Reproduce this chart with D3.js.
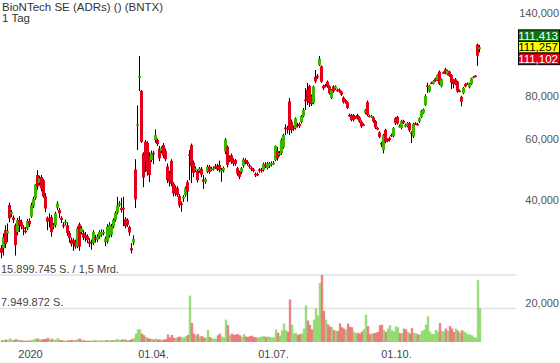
<!DOCTYPE html>
<html>
<head>
<meta charset="utf-8">
<script src="https://cdn.jsdelivr.net/npm/d3@7"></script>
<style>
  body { margin: 0; background: #fff; }
  svg { display: block; font-family: "Liberation Sans", Arial, sans-serif; }
</style>
</head>
<body>
<div id="chart"></div>
<script>
// BNTX daily candles (USD)
var opens = [
  28.9, 28.9, 32.6, 31.9, 38.6, 36.3, 35.5, 33.7, 32.2, 34.9,
  34.4, 33.2, 32.5, 33.0, 34.7, 35.7, 38.3, 40.4, 47.2, 44.8,
  46.6, 45.6, 40.9, 35.4, 35.4, 35.6, 33.4, 33.7, 37.9, 37.3,
  35.4, 33.8, 34.2, 33.7, 32.0, 30.6, 30.5, 30.2, 29.2, 33.9,
  32.2, 32.0, 31.5, 31.3, 30.2, 30.1, 29.9, 31.0, 30.5, 31.2,
  31.6, 31.9, 30.1, 30.2, 31.4, 31.6, 33.4, 34.9, 36.7, 38.7,
  37.8, 37.9, 35.1, 34.9, 33.3, 28.9, 30.0, 49.0, 65.7, 90.7,
  83.0, 54.6, 59.0, 58.5, 53.7, 52.2, 54.8, 59.7, 59.7, 56.4,
  55.4, 57.7, 55.6, 50.0, 47.7, 51.9, 44.5, 43.4, 43.2, 41.0,
  39.0, 40.3, 41.3, 45.0, 54.2, 57.7, 51.3, 49.0, 48.5, 48.5,
  49.2, 45.8, 45.1, 48.3, 50.0, 49.0, 49.2, 50.1, 50.3, 50.5,
  48.6, 48.7, 55.2, 57.1, 53.2, 53.9, 52.2, 52.2, 49.4, 48.2,
  48.1, 50.2, 52.2, 51.6, 50.4, 49.6, 49.0, 47.6, 47.5, 49.0,
  49.0, 48.8, 50.8, 49.5, 50.1, 50.5, 50.9, 52.2, 55.5, 54.0,
  54.6, 56.8, 64.9, 64.7, 77.4, 67.5, 64.9, 64.6, 66.1, 66.5,
  67.3, 70.1, 78.3, 83.5, 85.8, 80.2, 76.5, 91.2, 91.9, 98.7,
  97.9, 85.8, 86.3, 88.3, 85.6, 79.2, 85.6, 84.3, 83.7, 83.8,
  82.6, 79.4, 78.1, 76.9, 70.7, 70.6, 70.6, 69.6, 70.6, 69.5,
  67.5, 66.3, 71.6, 77.0, 70.3, 69.8, 69.5, 67.8, 64.7, 62.8,
  58.5, 55.8, 63.9, 59.8, 60.5, 61.8, 61.3, 69.1, 69.7, 65.4,
  64.7, 67.9, 65.5, 65.5, 66.9, 62.8, 61.1, 66.8, 66.5, 67.6,
  69.6, 71.6, 75.5, 86.0, 82.8, 87.7, 87.2, 90.2, 89.3, 94.5,
  85.6, 94.0, 96.0, 92.7, 94.5, 92.3, 89.3, 89.7, 88.3, 83.2,
  79.8, 81.8, 86.9, 87.3, 85.0, 86.9, 90.9, 91.9, 113.3, 109.8
];
var highs = [
  29.5, 31.9, 33.7, 34.1, 39.2, 37.3, 36.0, 34.1, 35.4, 35.8,
  35.0, 33.7, 33.3, 35.2, 35.3, 39.2, 40.8, 44.5, 48.8, 47.0,
  47.2, 46.0, 41.8, 35.7, 36.5, 36.1, 34.2, 36.9, 39.6, 37.8,
  35.8, 34.4, 35.0, 34.4, 32.4, 31.0, 30.9, 30.6, 33.4, 34.3,
  33.5, 32.6, 32.2, 31.7, 30.9, 30.6, 32.6, 31.6, 31.7, 32.6,
  32.8, 32.7, 31.2, 33.9, 34.4, 34.0, 35.3, 37.0, 40.8, 39.6,
  40.5, 40.8, 35.6, 35.3, 33.6, 29.9, 31.5, 52.5, 75.3, 104.9,
  83.5, 55.0, 59.7, 59.2, 55.0, 55.6, 55.5, 64.1, 60.3, 57.4,
  57.2, 58.5, 56.4, 51.0, 48.5, 52.5, 45.0, 44.0, 43.8, 41.5,
  39.5, 41.2, 43.7, 45.6, 55.8, 58.3, 52.0, 50.0, 49.0, 49.8,
  49.8, 47.2, 46.4, 50.5, 50.5, 49.9, 50.0, 50.8, 50.9, 52.0,
  49.5, 50.0, 60.5, 57.6, 53.8, 54.5, 52.8, 52.6, 49.9, 48.6,
  49.8, 53.0, 52.8, 52.1, 50.9, 50.0, 49.5, 48.0, 48.0, 49.4,
  49.5, 51.3, 51.4, 51.6, 51.5, 51.7, 51.8, 57.6, 57.0, 55.4,
  60.3, 62.3, 66.3, 65.6, 79.1, 68.5, 65.8, 69.5, 67.0, 67.2,
  70.6, 74.0, 84.6, 87.6, 86.5, 81.0, 86.0, 95.5, 93.0, 104.9,
  98.5, 86.5, 87.0, 89.0, 86.2, 84.0, 86.2, 86.1, 84.3, 84.4,
  83.1, 80.0, 78.6, 77.4, 71.3, 71.1, 71.1, 70.1, 71.2, 70.0,
  68.0, 66.8, 73.5, 77.8, 70.8, 70.7, 70.0, 68.3, 65.2, 63.3,
  59.0, 62.2, 64.4, 60.3, 61.0, 62.3, 65.1, 69.6, 70.2, 66.3,
  68.4, 68.4, 66.6, 67.4, 67.4, 63.3, 67.0, 67.3, 67.0, 69.5,
  73.1, 73.8, 81.2, 87.7, 86.3, 88.3, 89.2, 90.7, 92.8, 95.2,
  90.2, 94.6, 97.0, 95.7, 95.0, 92.8, 89.8, 90.5, 88.8, 83.8,
  80.3, 85.2, 87.4, 87.9, 87.7, 90.7, 91.8, 92.3, 114.0, 113.0
];
var lows = [
  27.0, 27.5, 28.9, 30.1, 34.4, 35.6, 34.2, 27.5, 31.5, 32.2,
  32.8, 31.5, 31.9, 32.6, 33.3, 35.4, 37.8, 40.0, 42.7, 44.0,
  42.3, 40.5, 36.8, 32.6, 33.2, 31.2, 32.8, 33.2, 37.3, 35.4,
  34.2, 33.0, 33.7, 31.4, 30.0, 29.2, 28.4, 28.8, 28.9, 28.4,
  31.7, 30.5, 30.2, 29.9, 29.1, 28.6, 29.5, 30.0, 30.1, 30.8,
  31.2, 31.5, 29.3, 29.8, 31.0, 31.1, 33.0, 34.5, 36.3, 38.2,
  36.7, 33.5, 33.0, 33.3, 31.4, 27.9, 29.5, 37.8, 55.8, 82.9,
  58.5, 43.5, 48.2, 47.0, 45.0, 51.5, 50.8, 58.6, 57.4, 51.8,
  54.6, 52.9, 51.8, 44.7, 43.7, 43.8, 40.9, 41.0, 40.8, 37.9,
  36.9, 39.4, 40.8, 39.5, 45.6, 44.7, 46.6, 48.2, 44.9, 47.9,
  46.5, 43.0, 44.5, 47.8, 47.6, 48.5, 48.6, 49.2, 48.5, 48.1,
  45.1, 48.0, 54.3, 49.7, 51.5, 50.9, 50.2, 50.2, 47.0, 45.9,
  47.5, 49.6, 50.8, 50.3, 49.3, 48.4, 48.0, 46.6, 46.8, 48.0,
  47.9, 48.3, 49.5, 49.0, 49.5, 50.0, 50.5, 51.8, 52.0, 53.5,
  54.0, 56.3, 61.7, 62.3, 61.7, 62.5, 63.5, 64.0, 65.0, 64.7,
  66.7, 69.5, 73.0, 75.5, 74.5, 75.0, 75.8, 87.5, 90.0, 98.0,
  87.6, 83.5, 85.0, 84.8, 81.0, 78.6, 82.0, 83.6, 82.6, 82.0,
  80.3, 76.3, 76.2, 73.5, 69.8, 67.7, 67.6, 68.8, 68.5, 67.0,
  64.8, 65.5, 71.0, 70.0, 69.5, 69.3, 67.0, 64.3, 63.8, 60.4,
  57.0, 54.6, 58.4, 58.8, 59.1, 61.0, 60.8, 66.0, 66.2, 64.9,
  64.1, 66.5, 65.0, 65.0, 63.0, 58.5, 60.5, 66.0, 65.8, 67.0,
  69.1, 71.2, 75.0, 81.8, 82.2, 86.9, 86.7, 88.2, 88.8, 86.3,
  85.0, 93.1, 92.8, 92.1, 91.2, 84.0, 84.5, 86.3, 82.0, 82.3,
  74.8, 81.2, 85.0, 86.4, 84.4, 86.4, 90.4, 91.0, 98.2, 107.5
];
var closes = [
  28.0, 31.1, 29.7, 32.4, 35.3, 36.8, 34.9, 29.5, 34.9, 33.7,
  33.4, 33.0, 32.2, 34.7, 33.9, 38.6, 40.2, 44.3, 43.7, 46.2,
  43.1, 40.9, 37.7, 34.5, 34.8, 32.2, 33.7, 36.5, 39.0, 36.5,
  34.9, 33.6, 34.5, 32.0, 30.9, 29.7, 29.8, 29.2, 33.0, 29.2,
  33.0, 31.0, 30.9, 30.5, 29.8, 29.9, 32.2, 30.8, 31.2, 32.2,
  32.2, 32.2, 30.8, 33.4, 33.8, 33.5, 34.9, 36.6, 38.4, 39.0,
  37.3, 37.6, 33.5, 33.8, 32.1, 28.5, 30.7, 40.1, 66.3, 91.7,
  59.0, 46.4, 51.6, 48.3, 47.2, 54.6, 54.4, 61.7, 58.1, 52.8,
  56.6, 53.8, 52.5, 45.6, 45.1, 44.5, 41.7, 41.7, 41.3, 38.5,
  38.8, 40.8, 43.2, 42.2, 54.0, 50.0, 47.9, 49.3, 45.6, 49.3,
  47.3, 45.1, 45.9, 49.9, 48.2, 49.3, 49.5, 49.8, 49.0, 48.8,
  48.9, 49.5, 59.9, 50.5, 52.2, 51.6, 51.0, 50.8, 47.7, 46.6,
  49.4, 52.4, 51.4, 50.8, 50.0, 49.0, 48.6, 47.3, 47.3, 48.6,
  48.6, 50.8, 50.0, 51.0, 51.0, 51.1, 51.2, 57.4, 52.8, 54.6,
  59.7, 61.7, 64.6, 64.4, 63.8, 63.8, 64.5, 69.0, 65.8, 65.5,
  70.1, 73.0, 77.8, 77.3, 76.5, 76.0, 85.5, 88.5, 91.5, 103.0,
  88.3, 84.5, 86.0, 85.6, 81.8, 83.5, 82.8, 85.6, 83.4, 82.6,
  80.9, 76.9, 76.9, 74.1, 70.4, 68.3, 68.3, 69.3, 69.1, 67.6,
  65.4, 66.0, 73.0, 70.7, 70.0, 70.2, 67.6, 64.9, 64.4, 61.0,
  57.9, 61.7, 59.0, 59.5, 59.7, 61.5, 64.6, 66.8, 66.8, 65.7,
  67.9, 67.0, 66.1, 66.9, 63.7, 62.5, 66.5, 66.5, 66.2, 69.0,
  72.6, 73.3, 80.2, 85.6, 85.8, 87.4, 88.7, 88.8, 92.3, 86.9,
  89.7, 93.7, 93.4, 95.2, 91.8, 87.8, 86.9, 86.9, 82.7, 82.9,
  77.2, 84.7, 85.5, 87.0, 87.2, 90.2, 91.3, 91.6, 105.1, 111.257
];
// volume in million shares
var volumes = [
  0.4, 0.5, 0.6, 0.4, 0.9, 0.5, 0.4, 0.7, 0.5, 0.4,
  0.4, 0.3, 0.3, 0.4, 0.3, 0.5, 0.6, 0.9, 0.8, 0.6,
  0.6, 0.7, 0.7, 1.0, 0.6, 0.8, 0.5, 0.6, 0.9, 0.5,
  0.4, 0.3, 0.3, 0.4, 0.4, 0.5, 0.4, 0.4, 0.7, 0.8,
  0.5, 0.4, 0.3, 0.3, 0.3, 0.3, 0.5, 0.3, 0.3, 0.4,
  0.4, 0.3, 0.4, 0.5, 0.4, 0.4, 0.5, 0.6, 0.7, 0.5,
  0.6, 0.7, 0.5, 0.4, 0.5, 0.7, 0.9, 2.0, 3.0, 3.0,
  2.0, 1.6, 1.2, 0.9, 0.8, 0.7, 0.6, 0.8, 0.6, 0.6,
  0.5, 0.6, 0.7, 1.8, 1.1, 1.7, 1.0, 0.9, 1.2, 1.3,
  1.1, 1.0, 1.4, 1.7, 11.0, 4.5, 2.0, 1.6, 1.9, 1.3,
  1.4, 1.1, 1.0, 2.9, 1.2, 0.9, 0.8, 0.8, 1.6, 2.0,
  1.3, 1.1, 5.3, 4.0, 1.6, 2.0, 1.7, 1.8, 1.9, 1.6,
  1.2, 1.9, 1.3, 1.2, 1.4, 1.5, 1.2, 1.1, 1.0, 1.2,
  1.3, 1.4, 1.2, 1.3, 1.2, 1.0, 1.1, 3.0, 2.2, 1.5,
  2.8, 4.4, 2.8, 2.4, 10.1, 4.1, 2.0, 2.2, 1.7, 1.9,
  2.0, 3.2, 8.7, 5.1, 4.1, 3.0, 5.3, 8.0, 6.3, 14.0,
  15.9, 7.4, 5.3, 4.2, 3.7, 3.5, 2.8, 2.7, 2.6, 4.4,
  3.5, 3.2, 2.9, 4.4, 3.6, 3.5, 2.5, 2.1, 2.2, 2.0,
  2.5, 3.1, 6.5, 3.8, 1.9, 2.0, 2.1, 2.2, 2.4, 4.0,
  4.1, 2.8, 2.4, 3.2, 4.0, 2.8, 2.5, 3.7, 3.5, 2.1,
  2.1, 3.2, 3.0, 2.4, 2.0, 3.3, 2.1, 2.1, 1.8, 1.8,
  2.6, 2.9, 4.1, 6.1, 2.5, 1.9, 1.9, 2.9, 2.5, 4.5,
  2.6, 2.5, 3.2, 2.6, 3.8, 3.2, 2.4, 3.2, 2.7, 2.2,
  2.8, 2.5, 2.2, 1.8, 1.8, 1.6, 1.2, 1.0, 14.7, 8.0
];

var dateTicks = [14.5, 76, 136, 197.5];
var dateLabels = ["2020", "01.04.", "01.07.", "01.10."];
var priceTicks = [20, 40, 60, 80, 140];
var volTicks = [15899745, 7949872];
var volSuffix = [" S. / 1,5 Mrd.", " S."];
var quoteValues = [111.413, 111.257, 111.102];

var svgWidth = 560;
var svgHeight = 363;
var plotRight = 516;

var de = d3.formatLocale({decimal: ",", thousands: ".", grouping: [3], currency: ["", " €"]});
var priceFmt = de.format(".3f");
var volFmt = de.format(",d");

var svg = d3.select("#chart")
  .append("svg")
  .attr("width", svgWidth)
  .attr("height", svgHeight);

var x = d3.scaleLinear()
  .domain([0, closes.length - 1])
  .range([1, 479]);

var y = d3.scaleLog()
  .domain([20, 140])
  .range([303, 13]);

var yVol = d3.scaleLinear()
  .domain([0, volTicks[0] / 1e6])
  .range([342, 275]);

var candles = closes.map(function(c, i) {
  return {i: i, o: opens[i], h: highs[i], l: lows[i], c: c, v: volumes[i],
          up: i === 0 ? c >= opens[i] : c >= closes[i - 1]};
});

// volume gridlines + labels
svg.append("g").selectAll("line")
  .data(volTicks)
  .enter()
  .append("line")
  .attr("x1", 0)
  .attr("x2", plotRight)
  .attr("y1", d => yVol(d / 1e6))
  .attr("y2", d => yVol(d / 1e6))
  .attr("stroke", "#e2e2e2")
  .attr("stroke-width", 1.6);

svg.append("g").selectAll("text")
  .data(volTicks)
  .enter()
  .append("text")
  .attr("x", 1)
  .attr("y", d => yVol(d / 1e6) - 2.5)
  .attr("font-size", "11px")
  .attr("fill", "#444")
  .text((d, k) => volFmt(d) + volSuffix[k]);

// volume bars
svg.append("g").selectAll("rect")
  .data(candles)
  .enter()
  .append("rect")
  .attr("x", d => x(d.i) - 0.2)
  .attr("width", 2.4)
  .attr("y", d => yVol(d.v))
  .attr("height", d => yVol(0) - yVol(d.v))
  .attr("fill", d => d.up ? "#6fcf45" : "#e65050")
  .attr("fill-opacity", 0.7);

// candles
var cg = svg.append("g").selectAll("g")
  .data(candles)
  .enter()
  .append("g");

cg.append("line")
  .attr("x1", d => x(d.i) + 0.5)
  .attr("x2", d => x(d.i) + 0.5)
  .attr("y1", d => y(d.h))
  .attr("y2", d => y(d.l))
  .attr("stroke", "#000")
  .attr("stroke-width", 1);

cg.append("rect")
  .attr("x", d => x(d.i) - 1)
  .attr("width", 3)
  .attr("y", d => y(Math.max(d.o, d.c)))
  .attr("height", d => Math.max(1.5, y(Math.min(d.o, d.c)) - y(Math.max(d.o, d.c))))
  .attr("fill", d => d.c >= d.o ? "#3cb400" : "#e2001a");

// price axis
var yAxis = svg.append("g")
  .attr("transform", "translate(559,0)")
  .call(d3.axisRight(y).tickValues(priceTicks).tickFormat(priceFmt).tickSize(0));
yAxis.select(".domain").remove();
yAxis.attr("font-family", null).attr("font-size", null);
yAxis.selectAll("text")
  .attr("x", 0)
  .attr("text-anchor", "end")
  .attr("fill", "#555")
  .style("font-size", "11px");

// time axis
var xAxis = svg.append("g")
  .attr("transform", "translate(0,342)")
  .call(d3.axisBottom(x).tickValues(dateTicks).tickFormat((d, k) => dateLabels[k]).tickSize(0).tickPadding(8));
xAxis.select(".domain").remove();
xAxis.attr("font-family", null).attr("font-size", null);
xAxis.selectAll("text")
  .attr("fill", "#444")
  .style("font-size", "11px");

// quote boxes (bid / last / ask)
var boxH = 11.6;
var yc = y(quoteValues[1]);
var boxFill = ["#0f730f", "#ffff00", "#e0001b"];
var boxText = ["#fff", "#000", "#fff"];
var qb = svg.append("g").selectAll("g")
  .data(quoteValues)
  .enter()
  .append("g")
  .attr("transform", (d, k) => `translate(518.5, ${yc - boxH / 2 + (k - 1) * boxH})`);
qb.append("rect")
  .attr("width", 41)
  .attr("height", boxH)
  .attr("fill", (d, k) => boxFill[k])
  .attr("stroke", "#000")
  .attr("stroke-width", 1);
qb.append("text")
  .attr("x", 39.5)
  .attr("y", boxH / 2)
  .attr("dy", "0.36em")
  .attr("text-anchor", "end")
  .attr("font-size", "11.5px")
  .attr("fill", (d, k) => boxText[k])
  .text(d => priceFmt(d));

// title
svg.append("text")
  .attr("x", 2)
  .attr("y", 11)
  .attr("font-size", "11.5px")
  .attr("fill", "#333")
  .text("BioNTech SE (ADRs) () (BNTX)");
svg.append("text")
  .attr("x", 2)
  .attr("y", 22)
  .attr("font-size", "11.5px")
  .attr("fill", "#333")
  .text("1 Tag");
</script>
</body>
</html>
